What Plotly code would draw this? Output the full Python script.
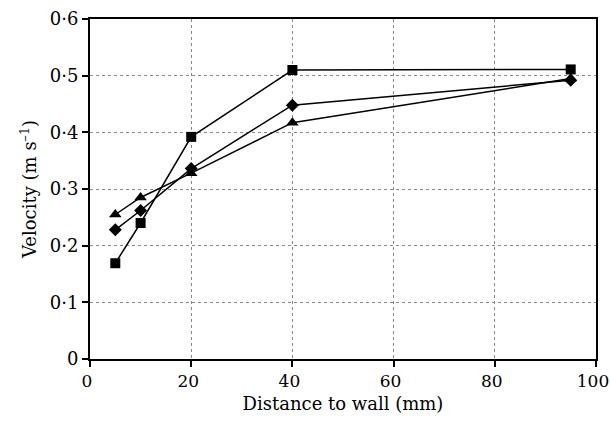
import plotly.graph_objects as go

distance = [5, 10, 20, 40, 95]
series_square = [0.169, 0.240, 0.392, 0.510, 0.511]
series_diamond = [0.228, 0.262, 0.336, 0.448, 0.492]
series_triangle = [0.255, 0.285, 0.328, 0.417, 0.495]

y_tickvals = [0, 0.1, 0.2, 0.3, 0.4, 0.5, 0.6]
y_ticktext = ["0", "0·1", "0·2", "0·3", "0·4", "0·5", "0·6"]
x_tickvals = [0, 20, 40, 60, 80, 100]

font_family = "DejaVu Serif, Liberation Serif, serif"

fig = go.Figure()
for ys, sym, sz in [(series_square, "square", 10),
                    (series_diamond, "diamond", 10),
                    (series_triangle, "triangle-up", 11)]:
    fig.add_trace(go.Scatter(
        x=distance, y=ys, mode="lines+markers",
        line=dict(color="black", width=1.5),
        marker=dict(symbol=sym, size=sz, color="black"),
        showlegend=False,
        cliponaxis=False,
    ))

axis_common = dict(
    showline=True, linecolor="black", linewidth=2, mirror=True,
    ticks="outside", ticklen=6, tickwidth=2, tickcolor="black",
    showgrid=True, gridcolor="#888888", gridwidth=1, griddash="dot",
    zeroline=False, automargin=False,
)

fig.update_xaxes(range=[0, 100], tickvals=x_tickvals,
                 tickfont=dict(family=font_family, size=17, color="black"),
                 ticklabelshift=-3,
                 title=dict(text="Distance to wall (mm)",
                            font=dict(family=font_family, size=18, color="black"),
                            standoff=7),
                 **axis_common)
fig.update_yaxes(range=[0, 0.6], tickvals=y_tickvals, ticktext=y_ticktext,
                 tickfont=dict(family=font_family, size=18, color="black"),
                 title=dict(text="Velocity (m s<sup>–1</sup>)",
                            font=dict(family=font_family, size=18, color="black"),
                            standoff=8),
                 **axis_common)

fig.update_layout(
    template="none",
    width=610, height=427,
    margin=dict(l=90, r=14, t=19, b=68),
    plot_bgcolor="white", paper_bgcolor="white",
    font=dict(family=font_family, color="black"),
)

fig.write_html(
    "out.html",
    config={"displayModeBar": False},
    post_script="document.body.style.margin='0';document.body.style.overflow='hidden';",
)
